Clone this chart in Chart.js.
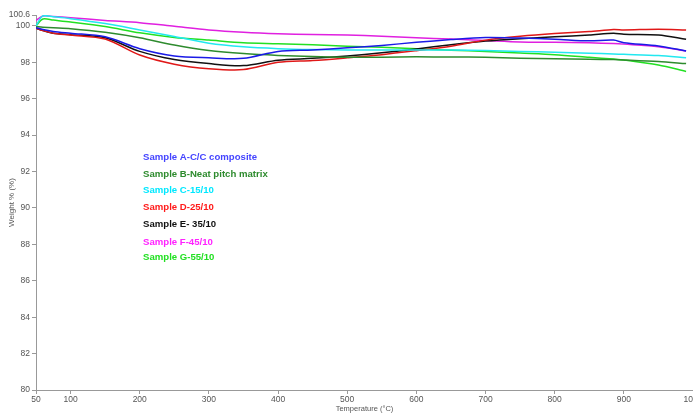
<!DOCTYPE html>
<html lang="en">
<head>
    <meta charset="UTF-8">
    <title>Weight % vs Temperature</title>
    <script src="https://cdn.jsdelivr.net/npm/chart.js"></script>
    <style>
        * { margin: 0; padding: 0; box-sizing: border-box; }
        body { background: white; width: 693px; height: 413px; overflow: hidden; }
        canvas { display: block; }
    </style>
</head>
<body>
    <canvas id="tgaChart" width="693" height="413"></canvas>

    <script>
        const temps = [50, 60, 75, 100, 150, 200, 250, 300, 350, 400, 450, 500, 550, 600, 650, 700, 750, 800, 850, 885, 900, 950, 990];

        const sampleA = [99.9, 99.8, 99.7, 99.6, 99.4, 98.75, 98.35, 98.25, 98.22, 98.6, 98.68, 98.8, 98.93, 99.1, 99.25, 99.36, 99.33, 99.27, 99.18, 99.22, 99.08, 98.9, 98.62];
        const sampleB = [99.96, 99.93, 99.9, 99.85, 99.65, 99.35, 98.95, 98.65, 98.48, 98.38, 98.32, 98.28, 98.28, 98.3, 98.29, 98.28, 98.23, 98.19, 98.17, 98.15, 98.13, 98.04, 97.93];
        const sampleC = [100.0, 100.55, 100.5, 100.4, 100.13, 99.78, 99.42, 99.05, 98.85, 98.75, 98.7, 98.68, 98.68, 98.68, 98.68, 98.65, 98.6, 98.55, 98.5, 98.46, 98.44, 98.37, 98.25];
        const sampleD = [99.87, 99.75, 99.6, 99.5, 99.28, 98.4, 97.9, 97.65, 97.6, 98.0, 98.1, 98.25, 98.42, 98.64, 98.88, 99.22, 99.43, 99.58, 99.69, 99.8, 99.78, 99.82, 99.78];
        const sampleE = [99.87, 99.75, 99.6, 99.52, 99.35, 98.6, 98.15, 97.93, 97.82, 98.12, 98.22, 98.35, 98.52, 98.73, 98.97, 99.17, 99.3, 99.4, 99.5, 99.6, 99.54, 99.5, 99.27];
        const sampleF = [100.3, 100.55, 100.52, 100.45, 100.3, 100.18, 99.98, 99.78, 99.65, 99.57, 99.53, 99.5, 99.43, 99.35, 99.28, 99.2, 99.12, 99.1, 99.07, 99.03, 99.0, 98.86, 98.62];
        const sampleG = [100.0, 100.38, 100.32, 100.22, 99.97, 99.62, 99.37, 99.22, 99.07, 99.02, 98.96, 98.88, 98.83, 98.75, 98.66, 98.6, 98.51, 98.42, 98.28, 98.18, 98.13, 97.85, 97.5];

        const seriesNames = ["Sample A-C/C composite", "Sample B-Neat pitch matrix", "Sample C-15/10", "Sample D-25/10", "Sample E- 35/10", "Sample F-45/10", "Sample G-55/10"];
        const lineColors = ["#1a1ae6", "#2e8b2e", "#22e8f0", "#e01818", "#111111", "#e020e0", "#22e022"];
        const labelColors = ["#4444ff", "#2e8b2e", "#00e8ff", "#ff1a1a", "#111111", "#ff22ff", "#22e022"];

        const xTicks = [50, 100, 200, 300, 400, 500, 600, 700, 800, 900, 1000];
        const yTicks = [80, 82, 84, 86, 88, 90, 92, 94, 96, 98, 100, 100.6];

        const allSeries = [sampleA, sampleB, sampleC, sampleD, sampleE, sampleF, sampleG];

        // legend is plain coloured text inside the plot
        const textLegend = {
            id: 'textLegend',
            afterDraw(chart) {
                const ctx = chart.ctx;
                const ys = [157, 174, 190, 207, 224, 242, 257];
                ctx.save();
                ctx.font = "bold 9.6px 'Liberation Sans', Arial, sans-serif";
                ctx.textBaseline = 'middle';
                seriesNames.forEach((name, i) => {
                    ctx.fillStyle = labelColors[i];
                    ctx.fillText(name, 143, ys[i]);
                });
                ctx.restore();
            }
        };

        new Chart(document.getElementById('tgaChart'), {
            type: 'line',
            data: {
                datasets: allSeries.map((vals, i) => ({
                    label: seriesNames[i],
                    data: temps.map((t, j) => ({ x: t, y: vals[j] })),
                    borderColor: lineColors[i],
                    borderWidth: 1.5,
                    pointRadius: 0,
                    tension: 0.3,
                    fill: false
                }))
            },
            options: {
                responsive: false,
                animation: false,
                layout: { padding: { top: 15, right: 0, left: 0, bottom: 0 } },
                plugins: { legend: { display: false }, tooltip: { enabled: false } },
                scales: {
                    x: {
                        type: 'linear',
                        min: 50,
                        max: 1000,
                        afterBuildTicks: s => { s.ticks = xTicks.map(v => ({ value: v })); },
                        afterFit: s => { s.height = 23; s.paddingLeft = 0; s.paddingRight = 0; },
                        grid: { drawOnChartArea: false, color: '#999', tickLength: 4 },
                        border: { color: '#999' },
                        ticks: { color: '#555', font: { size: 8.5, family: "'Liberation Sans', Arial" }, padding: 1, maxRotation: 0, autoSkip: false, callback: v => String(v) },
                        title: { display: true, text: 'Temperature (°C)', color: '#555', font: { size: 7.5, family: "'Liberation Sans', Arial" }, padding: 0 }
                    },
                    y: {
                        min: 80,
                        max: 100.6,
                        afterBuildTicks: s => { s.ticks = yTicks.map(v => ({ value: v })); },
                        afterFit: s => { s.width = 36; s.paddingTop = 0; s.paddingBottom = 0; },
                        grid: { drawOnChartArea: false, color: '#999', tickLength: 4 },
                        border: { color: '#999' },
                        ticks: { color: '#555', font: { size: 8.5, family: "'Liberation Sans', Arial" }, padding: 2, autoSkip: false, callback: v => String(v) },
                        title: { display: true, text: 'Weight % (%)', color: '#555', font: { size: 8, family: "'Liberation Sans', Arial" }, padding: { top: 7, bottom: 0 } }
                    }
                }
            },
            plugins: [textLegend]
        });
    </script>
</body>
</html>
